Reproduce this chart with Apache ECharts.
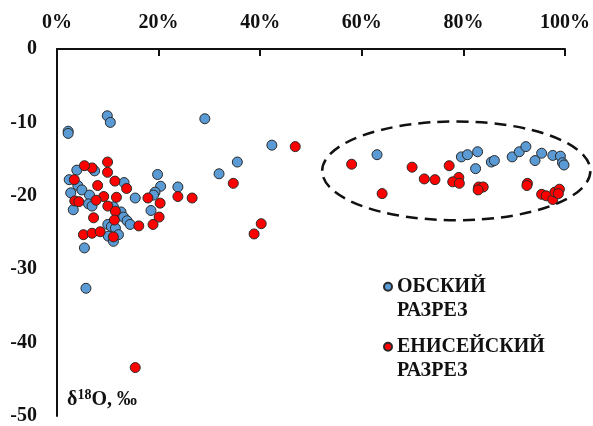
<!DOCTYPE html>
<html>
<head>
<meta charset="utf-8">
<script src="https://cdn.jsdelivr.net/npm/echarts@6/dist/echarts.min.js"></script>
<style>
html,body{margin:0;padding:0;background:#fff;}
#chart{width:593px;height:426px;}
</style>
</head>
<body>
<div id="chart"></div>
<script>
// ---- Data ----
const xTicks = [0, 20, 40, 60, 80, 100];       // % (top axis)
const yTicks = [0, -10, -20, -30, -40, -50];   // δ18O, ‰
const seriesNames = ['ОБСКИЙ\nРАЗРЕЗ', 'ЕНИСЕЙСКИЙ\nРАЗРЕЗ'];

// ОБСКИЙ РАЗРЕЗ: [share %, δ18O ‰]
const obData = [
  [2.2,-11.2],[2.2,-11.5],[9.9,-9.1],[10.5,-10.0],[29.1,-9.5],[42.3,-13.1],[35.5,-15.4],[31.9,-17.0],
  [19.8,-17.1],[20.4,-18.7],[19.3,-19.5],[19.0,-19.9],[23.8,-18.8],[15.4,-20.3],[13.2,-18.2],
  [2.4,-17.8],[3.9,-16.5],[7.4,-16.6],[2.7,-19.6],[4.1,-18.6],[4.9,-19.2],[6.4,-19.9],[3.2,-21.9],
  [6.2,-21.1],[6.9,-21.4],[18.5,-22.0],[5.4,-27.1],[5.7,-32.6],
  [12.6,-22.2],[13.1,-22.9],[13.8,-23.4],[14.4,-23.9],[10.0,-23.9],[10.7,-24.2],[11.5,-24.4],
  [12.1,-25.3],[10.1,-25.5],[11.1,-26.2],[11.1,-21.5],
  [63.0,-14.4],[79.6,-14.7],[80.8,-14.4],[82.8,-14.0],[82.4,-16.3],[85.5,-15.4],[86.1,-15.2],
  [89.6,-14.7],[91.0,-14.0],[92.3,-13.3],[94.1,-15.2],[95.4,-14.2],[97.6,-14.5],[99.1,-14.6],
  [99.5,-15.5],[99.8,-15.8]
];

// ЕНИСЕЙСКИЙ РАЗРЕЗ: [share %, δ18O ‰]
const enData = [
  [46.9,-13.3],[34.7,-18.3],[26.6,-20.3],[23.8,-20.1],[17.9,-20.3],[20.3,-21.0],[20.1,-22.9],
  [9.95,-15.4],[9.95,-16.8],[11.4,-18.0],[13.7,-19.0],[11.7,-20.2],[9.2,-20.1],[8.0,-18.6],
  [6.9,-16.2],[5.4,-15.9],[3.4,-17.8],[3.5,-20.7],[4.3,-20.8],[7.7,-20.6],[10.0,-21.4],
  [11.5,-22.1],[7.2,-23.0],[11.3,-23.3],[5.2,-25.3],[6.9,-25.1],[8.5,-24.9],[11.1,-25.6],
  [16.1,-24.1],[18.9,-23.9],[15.4,-43.4],[38.8,-25.2],[40.2,-23.8],
  [58.0,-15.7],[64.0,-19.7],[69.9,-16.1],[72.3,-17.7],[74.4,-17.8],[77.2,-15.9],[79.1,-17.5],
  [77.9,-18.1],[79.2,-18.3],[83.0,-18.8],[83.9,-18.8],[82.9,-19.2],[92.6,-18.3],[92.5,-18.6],
  [95.4,-19.8],[96.3,-20.0],[97.6,-20.5],[98.0,-19.5],[98.9,-19.1],[98.7,-19.7]
];

// Highlight ellipse (data units): centre x, centre y, radius x, radius y
const ellipseData = [[78.6, -16.6, 26.4, 6.73]];

// ---- Chart ----
const FONT = "'Liberation Serif', 'Times New Roman', serif";
const chart = echarts.init(document.getElementById('chart'));
const option = {
  backgroundColor: '#fff',
  animation: false,
  grid: { left: 57, top: 49, right: 27.7, bottom: 9, containLabel: false },
  xAxis: {
    type: 'value', position: 'top',
    min: xTicks[0], max: xTicks[xTicks.length - 1], interval: 20,
    axisLine: { onZero: false, lineStyle: { color: '#111', width: 2 } },
    axisTick: { show: true, inside: true, length: 7, lineStyle: { color: '#111', width: 2 } },
    axisLabel: { margin: 16, formatter: v => v + '%', color: '#111', fontFamily: FONT, fontWeight: 'bold', fontSize: 20 },
    splitLine: { show: false }
  },
  yAxis: {
    type: 'value',
    min: yTicks[yTicks.length - 1], max: yTicks[0], interval: 10,
    axisLine: { onZero: false, lineStyle: { color: '#111', width: 2 } },
    axisTick: { show: false },
    axisLabel: { margin: 20, color: '#111', fontFamily: FONT, fontWeight: 'bold', fontSize: 20 },
    splitLine: { show: false }
  },
  legend: {
    data: seriesNames,
    orient: 'vertical',
    left: 383, top: 250.7,
    padding: 0,
    itemGap: -12,
    itemWidth: 8, itemHeight: 8,
    icon: 'circle',
    formatter: name => '\n' + name,
    textStyle: { color: '#111', fontFamily: FONT, fontWeight: 'bold', fontSize: 20, lineHeight: 24 }
  },
  title: {
    text: 'δ{sup|18}O, ‰',
    left: 67, top: 388, padding: 0,
    textStyle: {
      color: '#111', fontFamily: FONT, fontWeight: 'bold', fontSize: 20,
      rich: { sup: { fontFamily: FONT, fontWeight: 'bold', fontSize: 14, color: '#111', padding: [0, 0, 9, 0] } }
    }
  },
  series: [
    {
      name: seriesNames[0], type: 'scatter', data: obData, symbolSize: 10,
      itemStyle: { color: '#5B9BD5', borderColor: '#2a2a2a', borderWidth: 1, opacity: 1 }
    },
    {
      name: seriesNames[1], type: 'scatter', data: enData, symbolSize: 10,
      itemStyle: { color: '#FF0000', borderColor: '#2a2a2a', borderWidth: 1, opacity: 1 }
    },
    {
      name: 'ellipse', type: 'custom', data: ellipseData, clip: false, silent: true, z: 1,
      renderItem: function (params, api) {
        const c = api.coord([api.value(0), api.value(1)]);
        const s = api.size([api.value(2), api.value(3)]);
        return {
          type: 'ellipse',
          shape: { cx: c[0], cy: c[1], rx: s[0], ry: s[1] },
          style: { fill: 'none', stroke: '#111', lineWidth: 2.5, lineDash: [12, 7] }
        };
      }
    }
  ]
};
chart.setOption(option);
</script>
</body>
</html>
